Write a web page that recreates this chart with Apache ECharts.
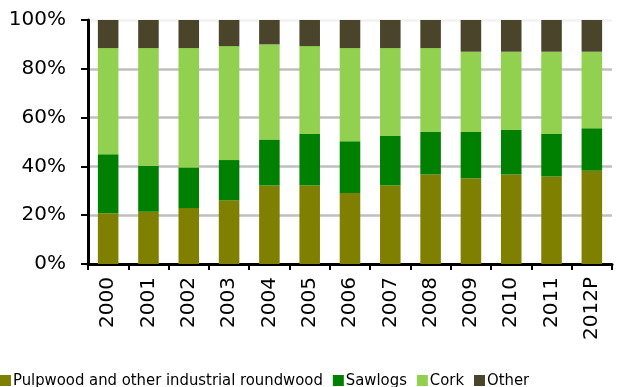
<!DOCTYPE html>
<html>
<head>
<meta charset="utf-8">
<script src="https://cdn.jsdelivr.net/npm/echarts@6/dist/echarts.min.js"></script>
<style>
html,body{margin:0;padding:0;background:#fff;}
#chart{width:635px;height:387px;}
</style>
</head>
<body>
<div id="chart"></div>
<script>
var categories = ['2000','2001','2002','2003','2004','2005','2006','2007','2008','2009','2010','2011','2012P'];
var pulpwood = [20.8, 21.4, 22.9, 26.1, 32.2, 32.2, 29.1, 32.2, 36.7, 35.1, 36.7, 35.9, 38.2];
var sawlogs  = [24.2, 18.9, 16.7, 16.5, 18.8, 21.1, 21.2, 20.3, 17.4, 19.0, 18.2, 17.4, 17.4];
var cork     = [43.5, 48.2, 48.9, 46.7, 39.0, 36.0, 38.2, 36.0, 34.4, 32.9, 32.1, 33.7, 31.4];
var other    = [11.5, 11.5, 11.5, 10.7, 10.0, 10.7, 11.5, 11.5, 11.5, 13.0, 13.0, 13.0, 13.0];
var seriesNames = ['Pulpwood and other industrial roundwood', 'Sawlogs', 'Cork', 'Other'];
var yTicks = [0, 20, 40, 60, 80, 100];

var colors = ['#808000', '#008000', '#92d050', '#4a442a'];
var font = 'DejaVu Sans, Verdana, sans-serif';
var legendFont = '"DejaVu Sans Condensed", "DejaVu Sans", sans-serif';
var chart = echarts.init(document.getElementById('chart'), null, {renderer: 'canvas'});
var dataSets = [pulpwood, sawlogs, cork, other];
chart.setOption({
  animation: false,
  color: colors,
  grid: {left: 88, right: 23, top: 20, bottom: 123, containLabel: false},
  legend: {
    left: 0, top: 372, width: 1200, padding: 0,
    itemWidth: 11, itemHeight: 11, itemGap: 10,
    icon: 'rect',
    textStyle: {fontFamily: legendFont, fontSize: 16.5, color: '#000', padding: [0,0,0,-3]},
    data: seriesNames
  },
  xAxis: {
    type: 'category', data: categories,
    axisLine: {lineStyle: {color: '#000', width: 3}},
    axisTick: {show: true, length: 6, lineStyle: {color: '#000', width: 2}},
    axisLabel: {rotate: 90, margin: 13, fontFamily: font, fontSize: 20, color: '#000'}
  },
  yAxis: {
    type: 'value', min: yTicks[0], max: yTicks[yTicks.length-1], interval: 20,
    axisLine: {show: true, lineStyle: {color: '#000', width: 3}},
    axisTick: {show: true, length: 7, lineStyle: {color: '#000', width: 2}},
    axisLabel: {formatter: '{value}%', margin: 22, fontFamily: font, fontSize: 20, color: '#000'},
    splitLine: {show: true, lineStyle: {color: ['#bfbfbf','#bfbfbf','#bfbfbf','#bfbfbf','#bfbfbf','#f2f2f2'], width: 2.5}}
  },
  series: seriesNames.map(function(n, i){
    return {name: n, type: 'bar', stack: 'total', barWidth: '51%', data: dataSets[i]};
  })
});
</script>
</body>
</html>
